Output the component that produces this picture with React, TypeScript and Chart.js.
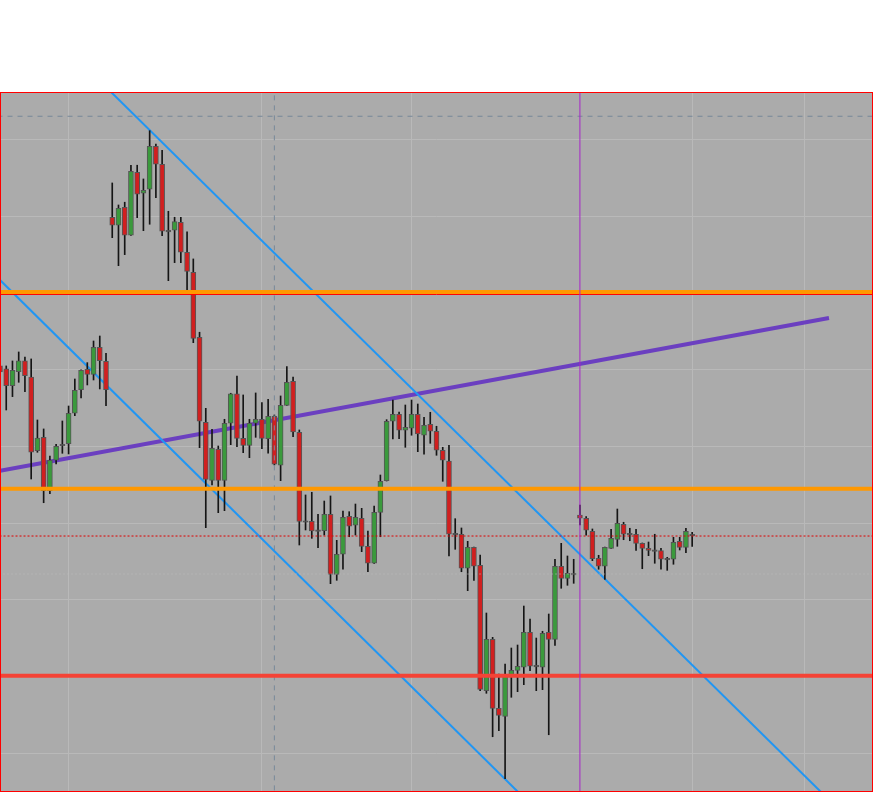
import React, { useEffect, useRef } from 'react';
import { Chart, registerables } from 'chart.js';

Chart.register(...registerables);

// ---- candle data (index = bar number) ----
const opens = [
  1050.47, 1050.08, 1047.90, 1049.72, 1051.12, 1049.03, 1039.43, 1041.17, 1034.22, 1038.18,
  1040.13, 1040.34, 1044.30, 1047.38, 1050.04, 1049.38, 1052.90, 1051.08, 1069.84, 1068.80,
  1071.14, 1067.50, 1075.70, 1072.97, 1073.49, 1079.09, 1076.75, 1068.06, 1068.15, 1069.19,
  1065.28, 1062.67, 1054.20, 1043.13, 1035.57, 1039.61, 1035.57, 1043.00, 1046.82, 1041.04,
  1040.13, 1043.00, 1043.52, 1040.99, 1043.91, 1037.53, 1045.34, 1048.47, 1041.83, 1030.18,
  1030.23, 1029.00, 1029.00, 1031.14, 1023.32, 1025.93, 1030.88, 1029.71, 1030.62, 1026.97,
  1024.76, 1031.40, 1035.52, 1043.26, 1044.17, 1042.09, 1042.35, 1044.17, 1041.44, 1042.87,
  1041.96, 1039.48, 1038.09, 1028.54, 1028.54, 1024.11, 1026.84, 1024.50, 1008.16, 1014.85,
  1005.86, 1004.82, 1010.16, 1010.81, 1011.21, 1015.77, 1011.34, 1011.21, 1015.77, 1014.85,
  1024.37, 1022.80, 1023.32, 1031.05, 1030.62, 1028.93, 1025.41, 1024.37, 1026.71, 1027.88,
  1029.84, 1028.54, 1028.54, 1027.36, 1026.71, 1026.40, 1026.40, 1025.28, 1025.28, 1027.62,
  1026.84, 1028.41,
];
const highs = [
  1051.25, 1050.47, 1051.12, 1052.29, 1051.64, 1051.38, 1043.43, 1042.26, 1038.74, 1040.26,
  1043.30, 1045.25, 1048.77, 1049.95, 1050.90, 1053.72, 1054.37, 1052.12, 1074.31, 1071.44,
  1071.80, 1076.62, 1076.62, 1074.83, 1081.12, 1079.39, 1078.57, 1070.62, 1069.84, 1069.84,
  1067.93, 1064.41, 1054.86, 1044.95, 1042.22, 1040.04, 1043.52, 1046.91, 1049.16, 1046.69,
  1043.52, 1046.95, 1045.68, 1046.13, 1044.08, 1046.56, 1050.37, 1049.03, 1042.13, 1033.66,
  1034.01, 1031.14, 1032.87, 1033.53, 1027.75, 1031.57, 1031.48, 1032.48, 1031.92, 1028.97,
  1032.22, 1036.26, 1043.47, 1046.03, 1044.47, 1045.38, 1046.03, 1045.51, 1043.78, 1044.43,
  1042.61, 1039.87, 1040.13, 1030.57, 1029.36, 1027.62, 1026.88, 1025.84, 1018.28, 1015.11,
  1010.33, 1011.64, 1013.72, 1014.11, 1019.19, 1017.50, 1015.02, 1015.90, 1018.15, 1025.28,
  1027.36, 1025.71, 1025.28, 1032.35, 1030.83, 1029.23, 1025.80, 1026.88, 1029.19, 1031.83,
  1030.10, 1029.32, 1029.19, 1027.40, 1027.53, 1028.54, 1026.71, 1025.54, 1028.14, 1028.14,
  1029.32, 1028.80,
];
const lows = [
  1048.64, 1044.73, 1046.47, 1048.34, 1047.12, 1035.74, 1039.22, 1032.65, 1033.83, 1037.70,
  1039.09, 1039.00, 1043.99, 1046.30, 1047.99, 1048.64, 1047.47, 1045.29, 1067.18, 1063.53,
  1064.97, 1067.47, 1069.79, 1068.09, 1068.93, 1072.40, 1067.44, 1061.58, 1063.93, 1063.93,
  1060.28, 1053.50, 1039.82, 1029.40, 1034.96, 1031.35, 1031.61, 1040.21, 1039.95, 1039.17,
  1038.52, 1041.17, 1039.69, 1039.09, 1037.57, 1035.52, 1045.31, 1041.25, 1027.14, 1029.10,
  1028.01, 1026.79, 1028.44, 1022.10, 1022.54, 1023.98, 1028.22, 1028.44, 1026.27, 1023.66,
  1024.73, 1028.22, 1035.48, 1040.95, 1040.99, 1039.87, 1041.44, 1039.30, 1038.96, 1040.39,
  1038.83, 1035.44, 1025.71, 1026.58, 1023.66, 1021.19, 1022.54, 1008.16, 1007.82, 1002.16,
  1002.94, 996.69, 1007.30, 1008.03, 1008.94, 1010.76, 1008.16, 1008.29, 1002.42, 1014.07,
  1021.50, 1021.89, 1022.15, 1029.75, 1028.41, 1025.10, 1023.98, 1022.67, 1026.68, 1026.97,
  1027.83, 1027.70, 1026.45, 1024.05, 1025.75, 1024.76, 1023.98, 1023.84, 1024.63, 1026.49,
  1026.14, 1026.97,
];
const closes = [
  1049.68, 1047.90, 1049.90, 1051.12, 1049.20, 1039.22, 1041.08, 1034.22, 1038.18, 1040.00,
  1040.17, 1044.30, 1047.30, 1049.90, 1049.38, 1052.90, 1051.16, 1047.38, 1068.80, 1071.01,
  1067.50, 1075.83, 1072.84, 1073.36, 1079.09, 1076.75, 1068.02, 1068.02, 1069.27, 1065.28,
  1062.80, 1054.07, 1043.26, 1035.70, 1039.74, 1035.57, 1043.00, 1046.82, 1041.04, 1040.13,
  1043.00, 1043.52, 1041.04, 1043.91, 1037.66, 1045.34, 1048.34, 1041.87, 1030.20, 1030.23,
  1028.97, 1029.04, 1031.14, 1023.32, 1025.93, 1030.75, 1029.58, 1030.75, 1026.97, 1024.76,
  1031.40, 1035.44, 1043.26, 1044.17, 1042.09, 1042.48, 1044.17, 1041.61, 1042.74, 1041.96,
  1039.48, 1038.18, 1028.54, 1028.58, 1024.11, 1026.84, 1024.37, 1008.34, 1014.85, 1005.86,
  1004.95, 1010.16, 1010.81, 1011.34, 1015.77, 1011.34, 1011.38, 1015.64, 1014.85, 1024.37,
  1022.80, 1023.45, 1023.36, 1030.62, 1029.06, 1025.36, 1024.37, 1026.84, 1028.01, 1029.97,
  1028.54, 1028.58, 1027.36, 1026.71, 1026.45, 1026.44, 1025.28, 1025.32, 1027.49, 1026.84,
  1028.93, 1028.45,
];

// ---- axes ----
const xMin = 0;
const xMax = 140;
const yMin = 994.96;
const yMax = 1086.16;
const yGridStep = 10;
const xGridTicks = [11, 42, 66, 111, 129];

// ---- drawn levels / studies ----
const orangeUpperLevel = 1060.11;
const redThinUpperLevel = 1059.78;
const orangeLowerLevel = 1034.48;
const redSupportLevel = 1010.11;
const redDottedLevel = 1028.31;
const grayDottedLevel = 1023.36;
const slateDashedLevel = 1083.0;
const dashedVerticalBar = 44;
const magentaVerticalBar = 93;
const purpleTrend: [number, number][] = [[0, 1036.82], [132.94, 1056.72]];
const blueUpperChannel: [number, number][] = [[10, 1092.41], [140, 988.28]];
const blueLowerChannel: [number, number][] = [[-5, 1065.68], [90, 989.41]];

const framePlugin = {
  id: 'frame',
  beforeDraw(chart: any) {
    const { ctx, chartArea } = chart;
    ctx.save();
    ctx.fillStyle = '#ababab';
    ctx.fillRect(chartArea.left, chartArea.top, chartArea.width, chartArea.height);
    ctx.restore();
  },
  afterDraw(chart: any) {
    const { ctx, chartArea } = chart;
    ctx.save();
    ctx.strokeStyle = '#ff0000';
    ctx.lineWidth = 1;
    ctx.strokeRect(chartArea.left + 0.5, chartArea.top + 0.5, chartArea.width - 1, chartArea.height - 1);
    ctx.restore();
  },
};

export default function App() {
  const ref = useRef<HTMLCanvasElement>(null);

  useEffect(() => {
    if (!ref.current) return;
    const idx = opens.map((_, i) => i);
    const isDoji = (i: number) => Math.abs(closes[i] - opens[i]) < 0.1;
    const bodies = idx.map((i) => {
      const o = opens[i];
      const c = closes[i];
      if (isDoji(i)) {
        const m = (o + c) / 2;
        return { x: i, y: [m - 0.1, m + 0.1] };
      }
      return { x: i, y: [Math.min(o, c), Math.max(o, c)] };
    });
    const bodyColors = idx.map((i) =>
      isDoji(i) ? '#555555' : closes[i] > opens[i] ? '#3a9a3c' : '#d11f1f'
    );
    const wicks = idx.map((i) => ({ x: i, y: [lows[i], highs[i]] }));

    const hLine = (v: number) => [
      { x: xMin - 2, y: v },
      { x: xMax + 2, y: v },
    ];
    const vLine = (x: number) => [
      { x, y: yMin - 5 },
      { x, y: yMax + 5 },
    ];
    const seg = (pts: [number, number][]) => pts.map(([x, y]) => ({ x, y }));
    const line = (data: any[], color: string, width: number, order: number, dash: number[] = []) => ({
      type: 'line' as const,
      data,
      borderColor: color,
      backgroundColor: color,
      borderWidth: width,
      borderDash: dash,
      borderCapStyle: 'butt' as const,
      pointRadius: 0,
      pointHoverRadius: 0,
      fill: false,
      tension: 0,
      order,
      clip: 0,
    });

    const chart = new Chart(ref.current, {
      type: 'bar',
      data: {
        datasets: [
          line(seg(purpleTrend), '#6b3fc0', 4, 20),
          line(seg(blueUpperChannel), '#2196f3', 2, 19),
          line(seg(blueLowerChannel), '#2196f3', 2, 19),
          {
            type: 'bar',
            data: wicks as any,
            backgroundColor: '#151515',
            borderWidth: 0,
            barThickness: 1,
            grouped: false,
            order: 10,
          } as any,
          {
            type: 'bar',
            data: bodies as any,
            backgroundColor: bodyColors,
            borderColor: '#555555',
            borderWidth: 1,
            borderSkipped: false,
            barThickness: 5,
            grouped: false,
            order: 9,
          } as any,
          line(hLine(grayDottedLevel), '#bcbcbc', 1, 5, [1, 3]),
          line(hLine(redDottedLevel), '#e00000', 1, 4, [2, 2]),
          line(hLine(slateDashedLevel), '#778899', 1, 4, [5, 5]),
          line(vLine(dashedVerticalBar), '#778899', 1, 4, [5, 5]),
          line(hLine(redThinUpperLevel), '#ff0000', 1, 3),
          line(hLine(orangeUpperLevel), '#ff9800', 4, 2),
          line(hLine(orangeLowerLevel), '#ff9800', 4, 2),
          line(hLine(redSupportLevel), '#f44336', 4, 2),
          line(vLine(magentaVerticalBar), '#a626c8', 1, 1),
        ] as any,
      },
      options: {
        animation: false,
        responsive: false,
        devicePixelRatio: 1,
        events: [],
        layout: { padding: { top: 92, left: 0, right: 0, bottom: 0 } },
        plugins: {
          legend: { display: false },
          tooltip: { enabled: false },
          title: { display: false },
        },
        scales: {
          x: {
            type: 'linear',
            min: xMin,
            max: xMax,
            offset: false,
            border: { display: false },
            grid: { color: '#b9b9b9', lineWidth: 1, drawTicks: false, offset: false },
            ticks: { display: false },
            afterBuildTicks: (scale: any) => {
              scale.ticks = xGridTicks.map((v) => ({ value: v }));
            },
            afterFit: (scale: any) => {
              scale.height = 0;
            },
          },
          y: {
            type: 'linear',
            min: yMin,
            max: yMax,
            beginAtZero: false,
            border: { display: false },
            grid: { color: '#b9b9b9', lineWidth: 1, drawTicks: false },
            ticks: { display: false, stepSize: yGridStep, includeBounds: false },
            afterFit: (scale: any) => {
              scale.width = 0;
            },
          },
        },
      } as any,
      plugins: [framePlugin],
    });

    return () => chart.destroy();
  }, []);

  return (
    <div style={{ position: 'absolute', left: 0, top: 0, width: 873, height: 792, background: '#ffffff' }}>
      <canvas ref={ref} width={873} height={792} style={{ display: 'block', width: 873, height: 792 }} />
    </div>
  );
}
